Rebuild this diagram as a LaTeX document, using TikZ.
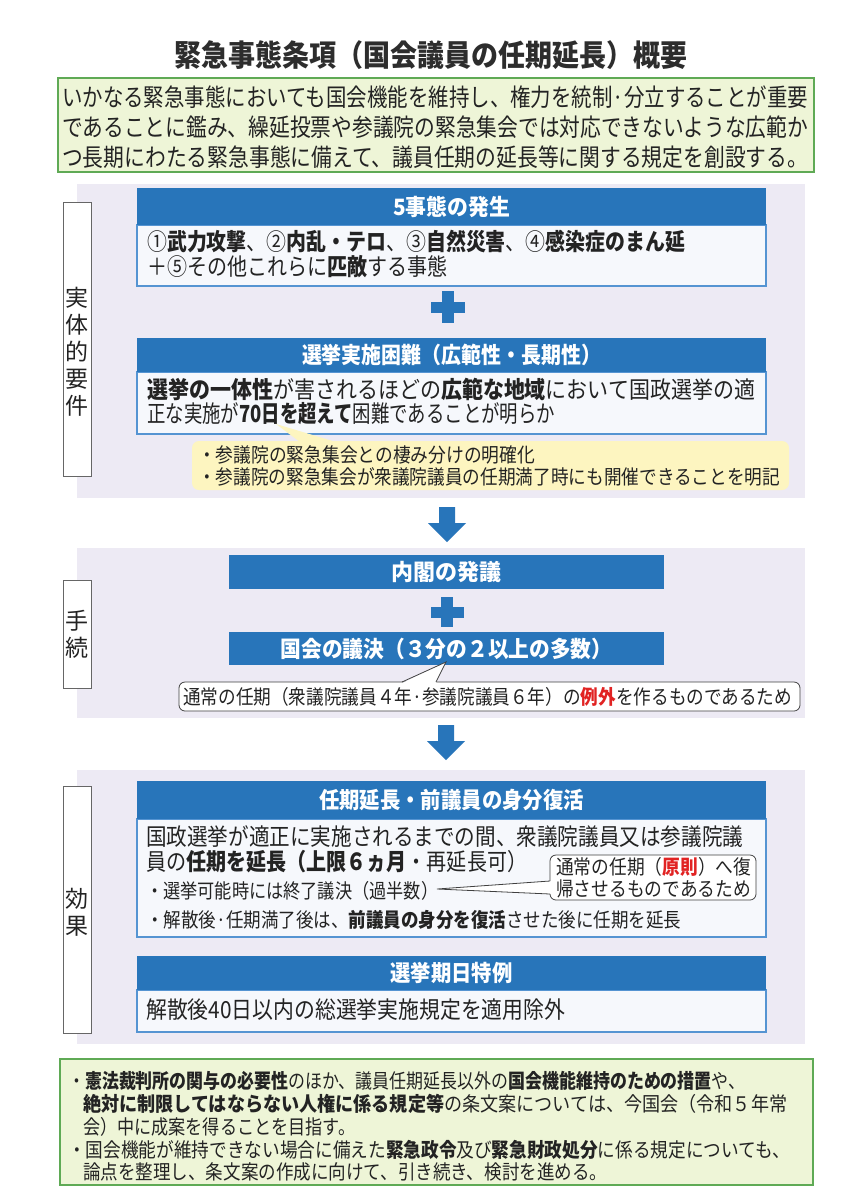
\documentclass[tikz,border=0pt]{standalone}
\usepackage{fontspec}
\setmainfont{Noto Sans CJK JP}
\usepackage{graphicx}
\definecolor{hdr}{RGB}{40,117,186}
\definecolor{bodyfill}{RGB}{246,248,252}
\definecolor{bodyline}{RGB}{85,148,210}
\definecolor{gfill}{RGB}{238,245,215}
\definecolor{gline}{RGB}{95,170,85}
\definecolor{lav}{RGB}{237,234,244}
\definecolor{yfill}{RGB}{253,245,192}
\definecolor{txt}{RGB}{35,35,35}
\definecolor{titlec}{RGB}{45,45,45}
\definecolor{redt}{RGB}{225,35,35}
\newcommand{\fitw}[2]{\resizebox{#1pt}{\height}{#2}}
\begin{document}
\begin{tikzpicture}[x=1pt,y=-1pt,
  hdrbox/.style={fill=hdr, draw=none, inner sep=0pt, text=white, font=\fontsize{22.5}{26}\selectfont\bfseries},
  bodybox/.style={fill=bodyfill, draw=bodyline, line width=1.3pt, inner sep=0pt},
  greenbox/.style={fill=gfill, draw=gline, line width=1.8pt},
  txtn/.style={inner sep=0pt, anchor=west, text=txt, font=\fontsize{23.5}{27}\selectfont},
  txts/.style={inner sep=0pt, anchor=west, text=txt, font=\fontsize{20}{24}\selectfont},
  txtg/.style={inner sep=0pt, anchor=west, text=txt, font=\fontsize{24.5}{28}\selectfont},
  lblbox/.style={draw=black!60, fill=white, line width=0.7pt, inner sep=0pt, minimum width=28pt},
  lbltext/.style={inner sep=0pt, text=txt, align=center, font=\fontsize{23}{27}\selectfont},
  callbox/.style={draw=black!75, fill=white, line width=0.8pt, rounded corners=6pt, inner sep=0pt},
  callline/.style={draw=black!75, line width=0.8pt},
]
\useasboundingbox (0,0) rectangle (849,1200);
\fill[white] (0,0) rectangle (849,1200);

% title
\node[inner sep=0pt, text=titlec, font=\fontsize{30}{34}\selectfont\bfseries] (title) at (431,55)
  {\fitw{513}{緊急事態条項（国会議員の任期延長）概要}};

% top green box
\path[greenbox] (58,78) rectangle (814,172);
\node[txtg] (g1) at (62,97) {\fitw{746}{いかなる緊急事態においても国会機能を維持し、権力を統制·分立することが重要}};
\node[txtg] (g2) at (62,127) {\fitw{746}{であることに鑑み、繰延投票や参議院の緊急集会では対応できないような広範か}};
\node[txtg] (g3) at (62,157) {\fitw{746}{つ長期にわたる緊急事態に備えて、議員任期の延長等に関する規定を創設する。}};

% section backgrounds
\fill[lav] (77,184) rectangle (805,498);
\fill[lav] (77,548) rectangle (805,718);
\fill[lav] (77,770) rectangle (805,1044);

% side labels
\node[lblbox, minimum height=274pt] (lab1) at (77,339) {};
\node[lbltext] (lab1t) at (77,352) {実\\体\\的\\要\\件};
\node[lblbox, minimum height=108pt] (lab2) at (77,634) {};
\node[lbltext] (lab2t) at (77,634) {手\\続};
\node[lblbox, minimum height=247pt] (lab3) at (77,909.5) {};
\node[lbltext] (lab3t) at (77,912) {効\\果};

% ===== section 1 =====
\node[bodybox, minimum width=629pt, minimum height=61pt] (b1) at (451.5,255.5) {};
\node[hdrbox, minimum width=629pt, minimum height=37pt] (h1) at (451.5,206.5) {\fitw{117}{5事態の発生}};
\node[txtn] (b1l1) at (147,242) {\fitw{538}{①\textbf{武力攻撃}、②\textbf{内乱・テロ}、③\textbf{自然災害}、④\textbf{感染症のまん延}}};
\node[txtn] (b1l2) at (147,267) {\fitw{300}{＋⑤その他これらに\textbf{匹敵}する事態}};

\fill[hdr] (431,301.5) rectangle (465,312.5);
\fill[hdr] (442,291) rectangle (454,323);

\node[bodybox, minimum width=629pt, minimum height=62pt] (b2) at (451.5,403) {};
\node[hdrbox, minimum width=629pt, minimum height=34pt] (h2) at (451.5,355) {\fitw{299}{選挙実施困難（広範性・長期性）}};
\node[txtn] (b2l1) at (147,389) {\fitw{608}{\textbf{選挙の一体性}が害されるほどの\textbf{広範な地域}において国政選挙の適}};
\node[txtn] (b2l2) at (147,414) {\fitw{408}{正な実施が\textbf{70日を超えて}困難であることが明らか}};

% yellow callout
\fill[yfill, rounded corners=7pt] (192,441) rectangle (789,490);
\fill[yfill] (300,442) -- (276,424) -- (336,442) -- cycle;
\node[txts] (y1) at (198,455) {\fitw{337}{・参議院の緊急集会との棲み分けの明確化}};
\node[txts] (y2) at (198,477) {\fitw{582}{・参議院の緊急集会が衆議院議員の任期満了時にも開催できることを明記}};

% arrow 1
\coordinate (a1) at (447,507);
\fill[hdr, shift={(a1)}] (-8,0) -- (8,0) -- (8,16) -- (19,16) -- (0,35) -- (-19,16) -- (-8,16) -- cycle;

% ===== section 2 =====
\node[hdrbox, minimum width=435pt, minimum height=34pt] (p1) at (446.5,572) {\fitw{110}{内閣の発議}};
\fill[hdr] (430.5,606.5) rectangle (463.5,617.5);
\fill[hdr] (441,597) rectangle (453,627);
\node[hdrbox, minimum width=435pt, minimum height=33pt] (p2) at (446.5,648.5) {\fitw{332}{国会の議決（３分の２以上の多数）}};

\node[callbox, minimum width=621pt, minimum height=29pt] (c2) at (489.5,696.5) {};
\fill[white] (402,683.2) -- (446,662) -- (436,683.2) -- cycle;
\draw[callline] (402,682) -- (446,662) -- (436,682);
\node[txts] (c2t) at (183,696.5) {\fitw{609}{通常の任期（衆議院議員４年·参議院議員６年）の\textcolor{redt}{\textbf{例外}}を作るものであるため}};

% arrow 2
\coordinate (a2) at (446,725);
\fill[hdr, shift={(a2)}] (-8,0) -- (8,0) -- (8,16) -- (19,16) -- (0,35) -- (-19,16) -- (-8,16) -- cycle;

% ===== section 3 =====
\node[bodybox, minimum width=629pt, minimum height=118pt] (b3) at (451.5,878) {};
\node[hdrbox, minimum width=629pt, minimum height=38pt] (h3) at (451.5,800) {\fitw{265}{任期延長・前議員の身分復活}};
\node[txtn] (b3l1) at (146,837) {\fitw{597}{国政選挙が適正に実施されるまでの間、衆議院議員又は参議院議}};
\node[txtn] (b3l2) at (146,862) {\fitw{381}{員の\textbf{任期を延長（上限６ヵ月}・再延長可）}};
\node[txts] (b3l3) at (146,891) {\fitw{292}{・選挙可能時には終了議決（過半数）}};
\node[txts] (b3l4) at (146,920) {\fitw{535}{・解散後·任期満了後は、\textbf{前議員の身分を復活}させた後に任期を延長}};

\node[callbox, minimum width=206pt, minimum height=45pt] (c3) at (653,877.5) {};
\fill[white] (551.2,881) -- (437,889) -- (551.2,894) -- cycle;
\draw[callline] (550,881) -- (437,889) -- (550,894);
\node[txts] (c3l1) at (556,867) {\fitw{195}{通常の任期（\textcolor{redt}{\textbf{原則}}）へ復}};
\node[txts] (c3l2) at (556,889) {\fitw{195}{帰させるものであるため}};

\node[bodybox, minimum width=629pt, minimum height=42pt] (b4) at (451.5,1011) {};
\node[hdrbox, minimum width=629pt, minimum height=34pt] (h4) at (451.5,973) {\fitw{122}{選挙期日特例}};
\node[txtn] (b4l1) at (146,1010) {\fitw{419}{解散後40日以内の総選挙実施規定を適用除外}};

% bottom green box
\path[greenbox] (60,1059) rectangle (813,1185);
\node[txts] (n1) at (68,1081) {\fitw{677}{・\textbf{憲法裁判所の関与の必要性}のほか、議員任期延長以外の\textbf{国会機能維持のための措置}や、}};
\node[txts] (n2) at (83,1104) {\fitw{704}{\textbf{絶対に制限してはならない人権に係る規定等}の条文案については、今国会（令和５年常}};
\node[txts] (n3) at (83,1127) {\fitw{272}{会）中に成案を得ることを目指す。}};
\node[txts] (n4) at (68,1150) {\fitw{722}{・国会機能が維持できない場合に備えた\textbf{緊急政令}及び\textbf{緊急財政処分}に係る規定についても、}};
\node[txts] (n5) at (83,1172) {\fitw{524}{論点を整理し、条文案の作成に向けて、引き続き、検討を進める。}};
\end{tikzpicture}
\end{document}
